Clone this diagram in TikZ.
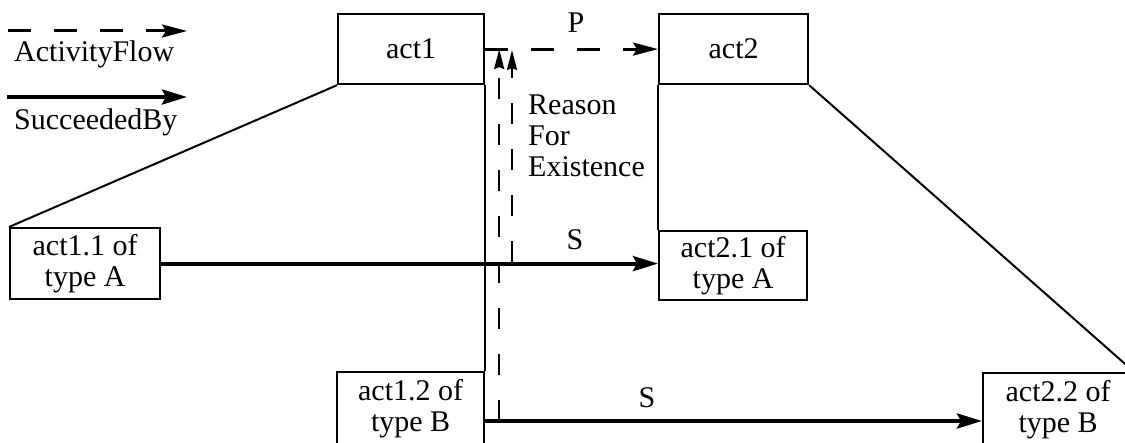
\documentclass[tikz,border=0pt]{standalone}
\usepackage{fontspec}
\setmainfont{Liberation Serif}
\usetikzlibrary{arrows.meta}
\begin{document}
\begin{tikzpicture}[x=1pt,y=-1pt,
  box/.style={draw, line width=2.2pt, inner sep=0pt, align=center,
    font=\fontsize{30}{31}\selectfont, anchor=north west},
  lbl/.style={inner sep=0pt, font=\fontsize{30}{31}\selectfont},
  flow/.style={dash pattern=on 23pt off 23pt, line width=3pt,
    -{Stealth[length=25pt,width=13pt,inset=4pt]}},
  succ/.style={line width=4pt, -{Stealth[length=25pt,width=15pt,inset=4pt]}},
  reason/.style={dash pattern=on 21pt off 25pt, line width=2pt,
    -{Stealth[length=20pt,width=10pt,inset=2pt]}},
  edgeline/.style={line width=2pt}]
\useasboundingbox (0,0) rectangle (1125,443);
\clip (0,0) rectangle (1125,443);
% boxes
\node[box, minimum width=146pt, minimum height=70pt] (act1) at (337,13) {act1};
\node[box, minimum width=149pt, minimum height=70pt] (act2) at (658,13) {act2};
\node[box, minimum width=150pt, minimum height=71pt] (act11) at (9,227) {act1.1 of\\type A};
\node[box, minimum width=148pt, minimum height=69pt] (act21) at (658,230) {act2.1 of\\type A};
\node[box, minimum width=147pt, minimum height=74pt] (act12) at (336,371) {act1.2 of\\type B};
\node[box, minimum width=150pt, minimum height=74pt] (act22) at (982,372) {act2.2 of\\type B};
% decomposition lines
\draw[edgeline] (act1.south west) -- (act11.north west);
\draw[edgeline] (act1.south east) -- (act12.north east);
\draw[edgeline] (act2.south west) -- (act21.north west);
\draw[edgeline] (act2.south east) -- (act22.north east);
% activity flow P
\draw[flow] (act1.east) -- (act2.west);
\node[lbl, anchor=base] (p) at (576,33) {P};
% succeeded by S
\draw[succ] (act11.east) -- (act11.east -| act21.west);
\node[lbl, anchor=base] (s1) at (575,250) {S};
\coordinate (s2a) at ([yshift=-50pt]act12.north east);
\draw[succ] (s2a) -- (s2a -| act22.west);
\node[lbl, anchor=base] (s2) at (647,408) {S};
% reason for existence
\coordinate (r1a) at ([xshift=14pt]s2a);
\draw[reason] (r1a) -- (r1a |- act1.east);
\coordinate (r2a) at (512,262.5);
\coordinate (r2b) at (512,50);
\draw[reason] (r2a) -- (r2b);
\node[lbl, anchor=north west, align=left] (reason) at (528,95) {Reason\\For\\Existence};
% legend
\coordinate (la1) at (8,31);
\coordinate (la2) at (187,31);
\draw[flow] (la1) -- (la2);
\node[lbl, anchor=base west] (lt1) at (14,62) {ActivityFlow};
\coordinate (lb1) at (7,97);
\coordinate (lb2) at (187,97);
\draw[succ] (lb1) -- (lb2);
\node[lbl, anchor=base west] (lt2) at (14,130) {SucceededBy};
\end{tikzpicture}
\end{document}
